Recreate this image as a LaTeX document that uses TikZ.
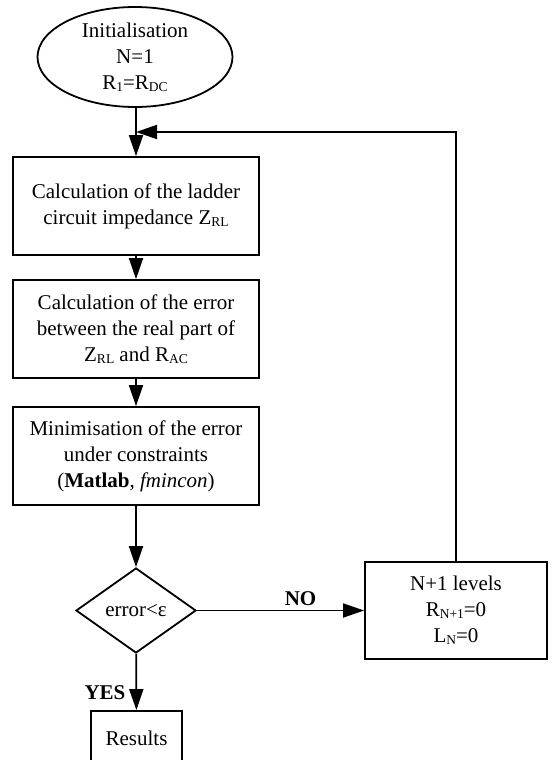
\documentclass[tikz,border=0pt]{standalone}
\usepackage{fontspec}
\setmainfont{Liberation Serif}
\usetikzlibrary{arrows.meta,shapes.geometric}
\newcommand{\lidx}[1]{\raisebox{-2pt}{\fontsize{13.5}{13.5}\selectfont #1}}
\begin{document}
\begin{tikzpicture}[x=1pt,y=-1pt,line width=1.8pt,
  every node/.style={font=\fontsize{21}{26}\selectfont, align=center, inner sep=0pt},
  box/.style={draw, rectangle, minimum width=246pt, minimum height=98pt},
  arr/.style={-{Triangle[length=21pt,width=14pt]}},
  lbl/.style={font=\fontsize{21}{26}\selectfont\bfseries}]
\useasboundingbox (0,0) rectangle (552,760);
\node[draw, ellipse, minimum width=195pt, minimum height=100pt] (init) at (135,57)
  {Initialisation\\N=1\\R\lidx{1}=R\lidx{DC}};
\node[box] (b1) at (136,206) {Calculation of the ladder\\circuit impedance Z\lidx{RL}};
\node[box] (b2) at (136,329) {Calculation of the error\\between the real part of\\Z\lidx{RL} and R\lidx{AC}};
\node[box] (b3) at (136,456) {Minimisation of the error\\under constraints\\(\textbf{Matlab}, \textit{fmincon})};
\node[draw, diamond, aspect=1.41, minimum width=120pt, minimum height=85pt] (dec) at (136,610.5) {error<ε};
\node[draw, rectangle, minimum width=182pt, minimum height=97pt] (b4) at (456,610.5)
  {N+1 levels\\R\lidx{N+1}=0\\L\lidx{N}=0};
\node[draw, rectangle, minimum width=91pt, minimum height=54pt] (res) at (136.5,738) {Results};
\coordinate (j) at (136,132);
\draw[arr] (init.south -| b1.north) -- (b1);
\draw[arr] (b1) -- (b2);
\draw[arr] (b2) -- (b3);
\draw[arr] (b3) -- (dec);
\draw[arr] (dec) -- node[pos=0.62, above=4pt, lbl] {NO} (b4);
\draw[arr] (dec) -- node[pos=0.69, left=10pt, lbl] {YES} (res);
\draw[arr] (b4.north) |- (j);
\end{tikzpicture}
\end{document}
